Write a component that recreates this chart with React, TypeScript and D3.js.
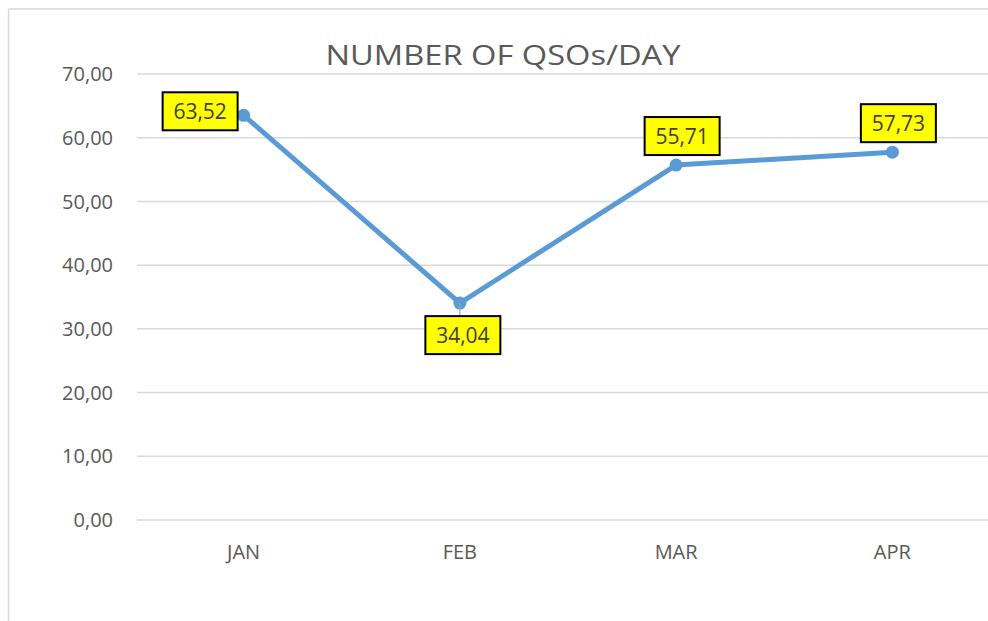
import React from "react";
import * as d3 from "d3";

const months = ["JAN", "FEB", "MAR", "APR"];
const values = [63.52, 34.04, 55.71, 57.73];
const labelTexts = ["63,52", "34,04", "55,71", "57,73"];
const labelPlacement = ["left", "below", "above", "above"];
const yTicks = [0, 10, 20, 30, 40, 50, 60, 70];
const title = "NUMBER OF QSOs/DAY";

const W = 988;
const H = 621;
const FONT = "'Open Sans', 'Noto Sans', sans-serif";

export default function App() {
  const x = d3.scaleBand<string>().domain(months).range([135.5, 1000.5]);
  const y = d3.scaleLinear().domain([0, 70]).range([520, 74]);
  const cx = (m: string) => (x(m) as number) + x.bandwidth() / 2;
  const fmt = (v: number) => v.toFixed(2).replace(".", ",");
  const line = d3
    .line<number>()
    .x((_, i) => cx(months[i]))
    .y((v) => y(v));

  const boxW = 75;
  const boxH = 38;

  return (
    <svg
      width={W}
      height={H}
      style={{ position: "absolute", left: 0, top: 0, background: "#fff" }}
    >
      <rect x={0} y={0} width={W} height={H} fill="#fff" />
      {/* chart border */}
      <line x1={8.5} y1={9} x2={8.5} y2={H} stroke="#d9d9d9" strokeWidth={1.5} />
      <line x1={8.5} y1={9} x2={W} y2={9} stroke="#d9d9d9" strokeWidth={1.5} />

      {/* gridlines */}
      {yTicks.map((t) => (
        <line
          key={t}
          x1={137}
          x2={W}
          y1={y(t)}
          y2={y(t)}
          stroke="#d9d9d9"
          strokeWidth={1.5}
        />
      ))}
      {/* y tick labels */}
      {yTicks.map((t) => (
        <text
          key={"l" + t}
          x={113}
          y={y(t)}
          dy="0.36em"
          textAnchor="end"
          fontFamily={FONT}
          fontSize={20}
          fill="#595959"
        >
          {fmt(t)}
        </text>
      ))}
      {/* x labels */}
      {months.map((m) => (
        <text
          key={m}
          x={cx(m)}
          y={559}
          textAnchor="middle"
          fontFamily={FONT}
          fontSize={20}
          fill="#595959"
        >
          {m}
        </text>
      ))}
      {/* title */}
      <text
        x={503}
        y={65}
        textAnchor="middle"
        fontFamily={FONT}
        fontSize={28}
        fill="#595959"
        textLength={355}
        lengthAdjust="spacingAndGlyphs"
      >
        {title}
      </text>

      {/* line */}
      <path d={line(values) || ""} fill="none" stroke="#5b9bd5" strokeWidth={5} strokeLinejoin="round" strokeLinecap="round" />
      {values.map((v, i) => (
        <circle key={i} cx={cx(months[i])} cy={y(v)} r={6.5} fill="#5b9bd5" />
      ))}

      {/* data labels */}
      {values.map((v, i) => {
        const px = cx(months[i]);
        const py = y(v);
        const p = labelPlacement[i];
        let bx = 0;
        let by = 0;
        if (p === "left") {
          bx = px - 6 - boxW;
          by = py - 4 - boxH / 2;
        } else if (p === "below") {
          bx = px + 3 - boxW / 2;
          by = py + 13;
        } else {
          bx = px + 6 - boxW / 2;
          by = py - 10 - boxH;
        }
        return (
          <g key={"d" + i}>
            {p === "below" && (
              <line x1={px} y1={py} x2={px} y2={by} stroke="#a6a6a6" strokeWidth={1.2} />
            )}
            <rect
              x={bx}
              y={by}
              width={boxW}
              height={boxH}
              fill="#ffff00"
              stroke="#000"
              strokeWidth={2}
            />
            <text
              x={bx + boxW / 2}
              y={by + boxH / 2}
              dy="0.36em"
              textAnchor="middle"
              fontFamily={FONT}
              fontSize={21}
              fill="#404040"
            >
              {labelTexts[i]}
            </text>
          </g>
        );
      })}
    </svg>
  );
}
